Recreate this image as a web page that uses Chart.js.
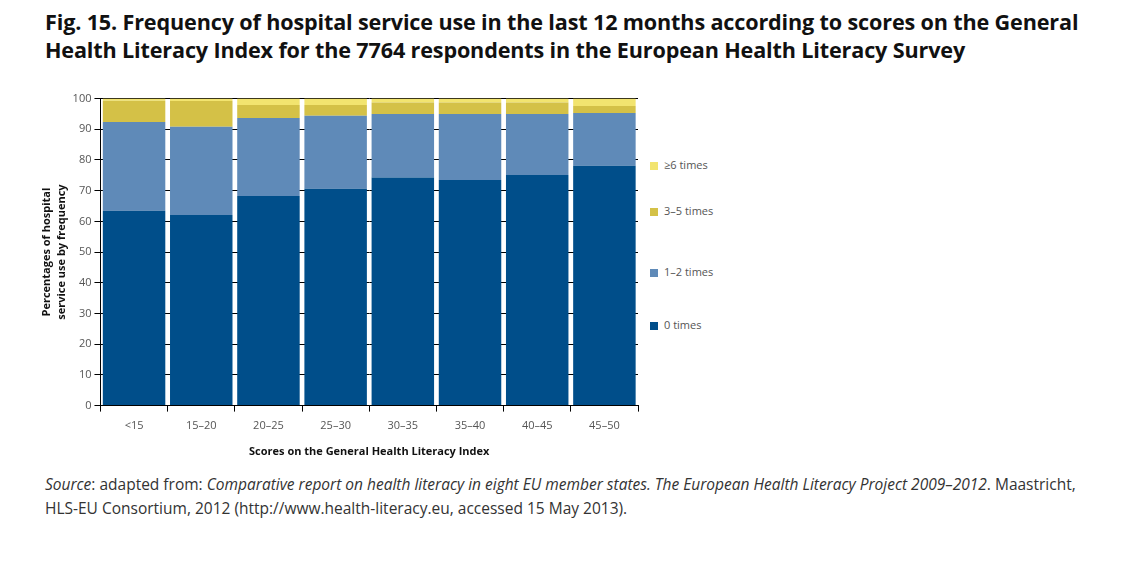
<!DOCTYPE html>
<html>
<head>
<meta charset="utf-8">
<script src="https://cdn.jsdelivr.net/npm/chart.js@4"></script>
<style>
  body { margin: 0; background: #fff; }
  #page { position: relative; width: 1139px; height: 561px; overflow: hidden; font-family: "Open Sans", "Noto Sans", sans-serif; }
  #title { position: absolute; left: 45px; top: 8px; font-size: 21.6px; font-weight: bold; line-height: 28px; color: #111; letter-spacing: -0.15px; }
  #chartbox { position: absolute; left: 32px; top: 89px; }
  .leg { position: absolute; left: 650px; font-size: 11px; color: #555; line-height: 12px; }
  .leg span { display: inline-block; width: 8px; height: 8px; margin-right: 6px; vertical-align: -0.5px; }
  #source { position: absolute; left: 45px; top: 472px; font-size: 15.5px; line-height: 24px; color: #333; }
</style>
</head>
<body>
<div id="page">
  <div id="title">Fig. 15. Frequency of hospital service use in the last 12 months according to scores on the General<br>Health Literacy Index for the 7764 respondents in the European Health Literacy Survey</div>
  <div id="chartbox"><canvas id="myChart" width="610" height="373"></canvas></div>
  <div class="leg" style="top:159px"><span style="background:#f2e46f"></span>≥6 times</div>
  <div class="leg" style="top:205px"><span style="background:#d4c147"></span>3–5 times</div>
  <div class="leg" style="top:266px"><span style="background:#5f8ab8"></span>1–2 times</div>
  <div class="leg" style="top:319px"><span style="background:#004e8a"></span>0 times</div>
  <div id="source"><i>Source</i>: adapted from: <i>Comparative report on health literacy in eight EU member states. The European Health Literacy Project 2009–2012</i>. Maastricht,<br>HLS-EU Consortium, 2012 (http://www.health-literacy.eu, accessed 15 May 2013).</div>
</div>
<script>
const scores = ["<15", "15–20", "20–25", "25–30", "30–35", "35–40", "40–45", "45–50"];
const zeroTimes = [63.5, 62.1, 68.3, 70.6, 74.3, 73.5, 75.1, 78.1];
const oneTwoTimes = [28.9, 28.7, 25.4, 23.8, 20.7, 21.5, 19.9, 17.2];
const threeFiveTimes = [6.9, 8.4, 4.2, 3.5, 3.7, 3.7, 3.7, 2.3];
const sixPlusTimes = [0.7, 0.8, 2.1, 2.1, 1.3, 1.3, 1.3, 2.4];
const yTicks = [0, 10, 20, 30, 40, 50, 60, 70, 80, 90, 100];

const barColors = ["#004e8a", "#5f8ab8", "#d4c147", "#f2e46f"];

new Chart("myChart", {
  type: "bar",
  data: {
    labels: scores,
    datasets: [
      { label: "0 times", data: zeroTimes, backgroundColor: barColors[0] },
      { label: "1–2 times", data: oneTwoTimes, backgroundColor: barColors[1] },
      { label: "3–5 times", data: threeFiveTimes, backgroundColor: barColors[2] },
      { label: "≥6 times", data: sixPlusTimes, backgroundColor: barColors[3] },
    ],
  },
  options: {
    responsive: false,
    animation: false,
    devicePixelRatio: 1,
    categoryPercentage: 0.93,
    barPercentage: 1,
    layout: { padding: { top: 6, right: 4, left: 4 } },
    plugins: { legend: { display: false }, tooltip: { enabled: false } },
    scales: {
      x: {
        stacked: true,
        grid: { offset: true, drawOnChartArea: false, color: "#000", tickLength: 6 },
        border: { color: "#000" },
        ticks: { color: "#555", font: { family: "Open Sans", size: 11 }, padding: 8 },
        title: {
          display: true,
          text: "Scores on the General Health Literacy Index",
          color: "#111",
          font: { family: "Open Sans", size: 11, weight: "bold" },
          padding: { top: 4 },
        },
      },
      y: {
        stacked: true,
        min: 0,
        max: 100,
        afterBuildTicks: (axis) => { axis.ticks = yTicks.map((v) => ({ value: v })); },
        grid: { color: "#000", tickLength: 6 },
        border: { color: "#000" },
        ticks: { color: "#555", font: { family: "Open Sans", size: 11 }, padding: 3 },
        title: {
          display: true,
          text: ["Percentages of hospital", "service use by frequency"],
          color: "#111",
          font: { family: "Open Sans", size: 11, weight: "bold", lineHeight: 1.3 },
          padding: { bottom: 1 },
        },
      },
    },
  },
});
</script>
</body>
</html>
